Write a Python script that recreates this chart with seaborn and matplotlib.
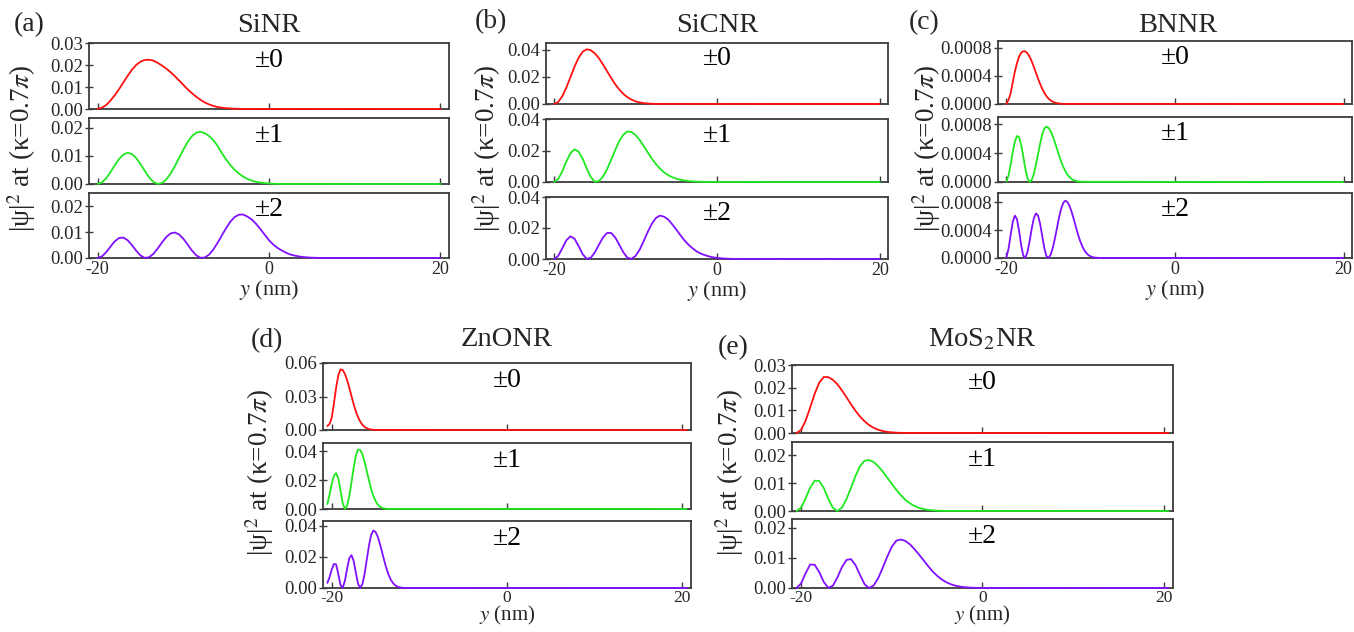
import numpy as np
import pandas as pd
import matplotlib
matplotlib.use("Agg")
import matplotlib.pyplot as plt
import seaborn as sns

# ---------------- data ----------------
# Each curve is sampled from its start position with a fixed step; values in the unit given.
modes = ["\u00b10", "\u00b11", "\u00b12"]
mode_colors = ["#ff1010", "#1ee81e", "#8010ff"]

# SiNR  (x from -20 nm, step 0.5 nm, values x1e-3)
sinr_start, sinr_step, sinr_end, sinr_unit = -20.0, 0.5, 20.0, 1e-3
sinr_m0 = [0, 0.6, 1.8, 3.8, 6.2, 9.0, 12.0, 15.0, 17.8, 20.0, 21.5, 22.3, 22.4, 22.0, 21.0,
           19.8, 18.4, 16.8, 15.0, 13.0, 11.0, 9.0, 7.2, 5.6, 4.2, 3.0, 2.1, 1.4, 0.9, 0.6,
           0.38, 0.22, 0.12, 0.06, 0.03]
sinr_m1 = [0, 0.53, 2.04, 4.2, 6.65, 8.87, 10.45, 11.1, 10.67, 9.26, 7.12, 4.7, 2.44, 0.76, 0.02,
           0.32, 1.55, 3.6, 6.25, 9.2, 12.2, 14.9, 17.0, 18.25, 18.6, 18.1, 17.1, 15.6, 13.6, 11.0,
           8.7, 6.7, 5.0, 3.7, 2.6, 1.8, 1.2, 0.78, 0.5, 0.32, 0.19, 0.1, 0.05, 0.02]
sinr_m2 = [0, 0.6, 2.23, 4.39, 6.43, 7.74, 7.92, 6.92, 5.05, 2.85, 1.0, 0.05, 0.28, 1.56, 3.6,
           5.94, 8.08, 9.5, 9.89, 9.17, 7.5, 5.24, 2.94, 1.07, 0.09, 0.19, 1.28, 3.25, 5.87, 8.77,
           11.6, 14.1, 15.9, 16.8, 16.85, 16.0, 14.9, 13.2, 11.2, 9.0, 6.9, 5.2, 3.9, 2.9, 2.0,
           1.35, 0.93, 0.6, 0.37, 0.22, 0.13, 0.07, 0.03]

# SiCNR (x from -20 nm, step 0.5 nm, values x1e-3)
sicnr_start, sicnr_step, sicnr_end, sicnr_unit = -20.0, 0.5, 20.0, 1e-3
sicnr_m0 = [0, 1.5, 5.7, 12.1, 19.7, 27.4, 33.9, 38.4, 40.2, 39.5, 37.2, 33.6, 29.0, 24.1, 19.1,
            14.5, 10.6, 7.4, 4.96, 3.2, 1.94, 1.14, 0.64, 0.35, 0.18, 0.09, 0.04]
sicnr_m1 = [0, 1.87, 6.8, 13.0, 18.3, 20.7, 19.3, 14.8, 8.6, 3.1, 0.17, 0.6, 3.4, 8.1, 14.1,
            20.3, 26.0, 30.0, 32.1, 31.7, 29.8, 26.7, 22.9, 18.8, 14.8, 11.4, 8.5, 6.1, 4.35, 3.06,
            2.1, 1.45, 0.93, 0.6, 0.38, 0.22, 0.12, 0.05]
sicnr_m2 = [0, 2.0, 6.9, 12.1, 14.6, 13.1, 8.4, 3.1, 0.14, 0.83, 4.3, 9.2, 13.9, 16.8, 16.8,
            13.9, 9.2, 4.3, 0.83, 0.09, 2.0, 6.0, 11.6, 17.5, 22.8, 26.5, 28.0, 27.3, 25.5, 22.4,
            19.0, 15.4, 12.0, 9.2, 6.9, 4.9, 3.5, 2.5, 1.7, 1.1, 0.73, 0.47, 0.3, 0.17, 0.08, 0.03]

# BNNR (x from -20 nm, step 0.25 nm, values x1e-6)
bnnr_start, bnnr_step, bnnr_end, bnnr_unit = -20.0, 0.25, 20.0, 1e-6
bnnr_m0 = [0, 60, 150, 310, 460, 580, 670, 728, 748, 745, 719, 671, 605, 527, 444, 361, 284,
           215, 158, 112, 77, 51, 33, 20, 12, 7, 3.7, 2, 1.1]
bnnr_m1 = [8, 90, 241, 415, 561, 637, 620, 515, 352, 181, 51, 0, 28, 111, 238, 386, 534, 660,
           742, 767, 749, 703, 634, 550, 458, 366, 282, 208, 148, 101, 66, 41, 25, 14.5, 8, 4.5, 2.3]
bnnr_m2 = [11, 132, 331, 517, 606, 555, 389, 183, 33, 5, 86, 240, 420, 568, 638, 608, 487, 312,
           141, 26, 2, 47, 144, 279, 432, 582, 708, 791, 820, 800, 742, 655, 551, 440, 335, 242,
           166, 109, 68, 40, 23, 12, 6, 3, 1.5]

# ZnONR (x from -20.5 nm, step 0.25 nm, values x1e-3)
znonr_start, znonr_step, znonr_end, znonr_unit = -20.5, 0.25, 20.5, 1e-3
znonr_m0 = [3.5, 5.5, 11, 24, 38, 49, 54.3, 53.7, 50.3, 44.7, 37.8, 30.4, 23.1, 16.7, 11.5, 7.5,
            4.65, 2.74, 1.54, 0.82, 0.41, 0.2, 0.09, 0.04]
znonr_m1 = [3.5, 10.0, 17.5, 23.0, 24.9, 21.2, 12.6, 4.0, 0.05, 2.2, 8.9, 18.5, 28.7, 37.0, 41.3,
            41.0, 37.9, 32.7, 26.3, 19.8, 13.8, 9.0, 5.5, 3.1, 1.66, 0.83, 0.38, 0.17, 0.07]
znonr_m2 = [3.3, 7.0, 12.0, 15.5, 15.2, 8.9, 1.9, 0.1, 4.7, 12.4, 19.2, 21.2, 17.4, 9.8, 2.7, 0,
            2.6, 9.3, 18.4, 27.5, 34.3, 37.1, 36.1, 33.1, 28.4, 23.0, 17.4, 12.4, 8.3, 5.2, 3.1,
            1.7, 0.89, 0.44, 0.2, 0.08, 0.03]

# MoS2NR (x from -20.5 nm, step 0.5 nm, values x1e-3)
mos2_start, mos2_step, mos2_end, mos2_unit = -20.5, 0.5, 20.5, 1e-3
mos2_m0 = [0, 1.35, 5.4, 11.2, 17.3, 22.2, 24.7, 24.65, 23.5, 21.5, 18.8, 15.8, 12.7, 9.8, 7.25,
           5.15, 3.5, 2.29, 1.43, 0.86, 0.49, 0.27, 0.14, 0.07, 0.03]
mos2_m1 = [0, 1.2, 4.5, 8.4, 10.9, 10.8, 8.3, 4.4, 1.15, 0.0, 1.2, 4.2, 8.3, 12.6, 16.1, 18.1,
           18.3, 17.6, 16.1, 14.2, 12.0, 9.75, 7.6, 5.65, 4.0, 2.76, 1.82, 1.14, 0.69, 0.4, 0.22,
           0.12, 0.06, 0.03]
mos2_m2 = [0, 1.5, 4.9, 7.8, 7.7, 5.3, 2.0, 0.07, 0.74, 3.45, 6.9, 9.3, 9.6, 7.6, 4.3, 1.25, 0,
           0.84, 3.25, 6.7, 10.4, 13.7, 15.7, 16.1, 15.6, 14.5, 12.9, 11.1, 9.2, 7.3, 5.5, 4.06,
           2.85, 1.93, 1.26, 0.78, 0.47, 0.27, 0.15, 0.08, 0.04, 0.02]

panel_tags = ["(a)", "(b)", "(c)", "(d)", "(e)"]
panel_titles = ["SiNR", "SiCNR", "BNNR", "ZnONR", "MoS$_2$NR"]
xtick_values = [-20, 0, 20]

sinr_yticks = [[0, 0.01, 0.02, 0.03], [0, 0.01, 0.02], [0, 0.01, 0.02]]
sicnr_yticks = [[0, 0.02, 0.04], [0, 0.02, 0.04], [0, 0.02, 0.04]]
bnnr_yticks = [[0, 0.0004, 0.0008], [0, 0.0004, 0.0008], [0, 0.0004, 0.0008]]
znonr_yticks = [[0, 0.03, 0.06], [0, 0.02, 0.04], [0, 0.02, 0.04]]
mos2_yticks = [[0, 0.01, 0.02, 0.03], [0, 0.01, 0.02], [0, 0.01, 0.02]]

sinr_ytop = [0.03, 0.0235, 0.0252]
sicnr_ytop = [0.0448, 0.04, 0.04]
bnnr_ytop = [0.000894, 0.0009, 0.00093]
znonr_ytop = [0.06, 0.0458, 0.0432]
mos2_ytop = [0.03, 0.0248, 0.0229]

# ---------------- style ----------------
sns.set_theme(style="white")
plt.rcParams["font.family"] = ["Liberation Serif", "DejaVu Serif"]
plt.rcParams["mathtext.fontset"] = "stix"
plt.rcParams["axes.unicode_minus"] = False

W, H = 1354, 632
fig = plt.figure(figsize=(W / 100, H / 100), dpi=100)
fig.patch.set_facecolor("white")

# layout in pixels: left, right, [(top, bottom) for each of 3 rows]
layout = [
    (89, 449, [(43, 109), (118, 184), (193, 258)]),
    (546, 888, [(43, 104), (119, 182), (197, 259)]),
    (998, 1352, [(41, 104), (117, 182), (193, 258)]),
    (323, 691, [(363, 430), (443, 509), (521, 588)]),
    (792, 1173, [(365, 433), (442, 511), (519, 588)]),
]
tag_pos = [(29, 25), (491, 22), (924, 23), (267, 341), (733, 348)]
title_base = [(269, 32), (717, 32), (1178, 32), (507, 346), (982, 346)]
ylabel_pos = [(22, 148), (487, 148), (927, 148), (260, 472), (730, 472)]
xlabel_pad = [0, 0, 0, -1.5, -1.5]

panel_data = [
    (sinr_start, sinr_step, sinr_end, sinr_unit, [sinr_m0, sinr_m1, sinr_m2], sinr_yticks, sinr_ytop, "%.2f"),
    (sicnr_start, sicnr_step, sicnr_end, sicnr_unit, [sicnr_m0, sicnr_m1, sicnr_m2], sicnr_yticks, sicnr_ytop, "%.2f"),
    (bnnr_start, bnnr_step, bnnr_end, bnnr_unit, [bnnr_m0, bnnr_m1, bnnr_m2], bnnr_yticks, bnnr_ytop, "%.4f"),
    (znonr_start, znonr_step, znonr_end, znonr_unit, [znonr_m0, znonr_m1, znonr_m2], znonr_yticks, znonr_ytop, "%.2f"),
    (mos2_start, mos2_step, mos2_end, mos2_unit, [mos2_m0, mos2_m1, mos2_m2], mos2_yticks, mos2_ytop, "%.2f"),
]

spine_col = "#3c3c3c"

def fx(px):
    return px / W

def fy(py):
    return 1 - py / H

for p in range(5):
    L, R, rows = layout[p]
    start, step, end, unit, curves, yticks, ytops, fmt = panel_data[p]
    for r in range(3):
        top, bot = rows[r]
        ax = fig.add_axes([fx(L), fy(bot), (R - L) / W, (bot - top) / H])
        vals = curves[r]
        xs = list(start + step * np.arange(len(vals))) + [end]
        ys = [v * unit for v in vals] + [0.0]
        df = pd.DataFrame({"y_nm": xs, "psi2": ys})
        sns.lineplot(data=df, x="y_nm", y="psi2", ax=ax, color=mode_colors[r],
                     linewidth=1.3, estimator=None, sort=False, legend=False)
        for ln in ax.get_lines():
            ln.set_clip_on(False)
            ln.set_zorder(5)
        ax.set_xlim(-21, 21)
        ax.set_ylim(0, ytops[r])
        ax.set_xticks(xtick_values)
        ax.set_yticks(yticks[r])
        ax.set_yticklabels([fmt % t for t in yticks[r]])
        ax.set_xlabel("")
        ax.set_ylabel("")
        if r == 2:
            ax.set_xticklabels([str(t) for t in xtick_values])
            ax.set_xlabel("$y$ (nm)", fontsize=16 if p < 3 else 15, labelpad=xlabel_pad[p])
        else:
            ax.set_xticklabels([])
        ax.tick_params(axis="x", direction="in", length=4, width=1, color=spine_col,
                       labelsize=13 if p < 3 else 12.5, pad=2.5 if p < 3 else 1.5,
                       bottom=True, top=False)
        ax.tick_params(axis="y", direction="inout", length=6, width=1, color=spine_col,
                       labelsize=13.5, pad=1.5, left=True, right=False)
        for s in ax.spines.values():
            s.set_color(spine_col)
            s.set_linewidth(1.3)
            s.set_visible(True)
        ax.set_facecolor("white")
        ax.text(0.5, 0.74, modes[r], transform=ax.transAxes, ha="center", va="center",
                fontsize=20, color="black")
    tx, ty = tag_pos[p]
    fig.text(fx(tx), fy(ty), panel_tags[p], fontsize=20, ha="center", va="center")
    bx, by = title_base[p]
    fig.text(fx(bx), fy(by), panel_titles[p], fontsize=20.5, ha="center", va="baseline")
    lx, ly = ylabel_pos[p]
    fig.text(fx(lx), fy(ly), "|\u03c8|$^2$ at (\u03ba=0.7$\\pi$)", fontsize=19.5,
             rotation=90, ha="center", va="center")

fig.savefig("out.png", dpi=100, facecolor="white")
